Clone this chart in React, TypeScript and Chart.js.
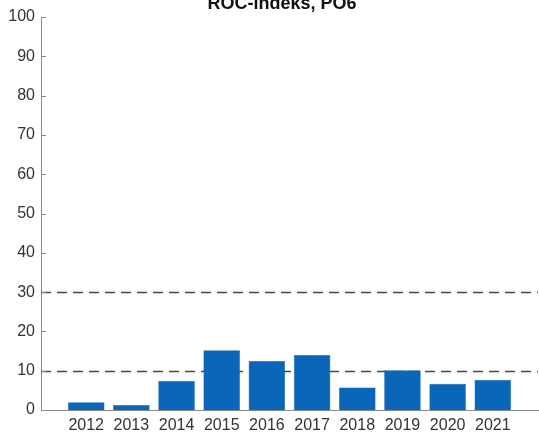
import React, { useEffect, useRef } from "react";
import { Chart, registerables } from "chart.js";

Chart.register(...registerables);

const years = [2012, 2013, 2014, 2015, 2016, 2017, 2018, 2019, 2020, 2021];
const rocValues = [2.0, 1.3, 7.4, 15.2, 12.5, 14.0, 5.7, 10.1, 6.7, 7.7];
const refLines = [10, 30];
const yTicks = [0, 10, 20, 30, 40, 50, 60, 70, 80, 90, 100];
const titleText = "ROC-indeks, PO6";

const FONT = "'Liberation Sans', Arial, Helvetica, sans-serif";

const overlayPlugin = {
  id: "overlay",
  beforeDatasetsDraw(chart: any) {
    const { ctx, chartArea } = chart;
    const y = chart.scales.y;
    ctx.save();
    ctx.strokeStyle = "#4a4a4a";
    ctx.lineWidth = 1.5;
    ctx.setLineDash([10, 6]);
    refLines.forEach((v) => {
      const py = Math.round(y.getPixelForValue(v)) + 0.5;
      ctx.beginPath();
      ctx.moveTo(chartArea.left, py);
      ctx.lineTo(chartArea.right, py);
      ctx.stroke();
    });
    ctx.restore();
  },
  afterDraw(chart: any) {
    const { ctx, chartArea } = chart;
    const y = chart.scales.y;
    ctx.save();
    ctx.strokeStyle = "#8a8a8a";
    ctx.lineWidth = 1;
    yTicks.forEach((v) => {
      const py = Math.round(y.getPixelForValue(v)) + 0.5;
      ctx.beginPath();
      ctx.moveTo(chartArea.left, py);
      ctx.lineTo(chartArea.left + 5, py);
      ctx.stroke();
    });
    ctx.fillStyle = "#111";
    ctx.font = `bold 18px ${FONT}`;
    ctx.textAlign = "center";
    ctx.textBaseline = "alphabetic";
    ctx.fillText(titleText, 282, 9);
    ctx.restore();
  },
};

export default function App() {
  const ref = useRef<HTMLCanvasElement>(null);
  useEffect(() => {
    document.body.style.margin = "0";
    const chart = new Chart(ref.current!, {
      type: "bar",
      data: {
        datasets: [
          {
            data: years.map((yr, i) => ({ x: yr, y: rocValues[i] })),
            backgroundColor: "#0a66b8",
            borderColor: "#0a5aa3",
            borderWidth: 0.5,
            barPercentage: 0.81,
            categoryPercentage: 1,
          },
        ],
      },
      options: {
        responsive: false,
        animation: false,
        layout: { padding: { top: 17, right: 1, left: 0, bottom: 0 } },
        plugins: { legend: { display: false }, tooltip: { enabled: false }, title: { display: false } },
        scales: {
          x: {
            type: "linear",
            min: 2011,
            max: 2022,
            offset: false,
            grid: { display: false, drawTicks: false },
            border: { display: true, color: "#8a8a8a", width: 1 },
            afterBuildTicks: (scale: any) => {
              scale.ticks = years.map((v) => ({ value: v }));
            },
            afterFit: (scale: any) => {
              scale.height = 26;
            },
            ticks: {
              autoSkip: false,
              maxRotation: 0,
              padding: 6,
              color: "#333",
              font: { family: FONT, size: 16 },
              callback: (v: any) => String(v),
            },
          },
          y: {
            min: 0,
            max: 100,
            grid: { display: false, drawTicks: false },
            border: { display: true, color: "#8a8a8a", width: 1 },
            afterBuildTicks: (scale: any) => {
              scale.ticks = yTicks.map((v) => ({ value: v }));
            },
            afterFit: (scale: any) => {
              scale.width = 41;
            },
            ticks: {
              padding: 6,
              color: "#333",
              font: { family: FONT, size: 16 },
            },
          },
        },
      },
      plugins: [overlayPlugin],
    });
    return () => chart.destroy();
  }, []);
  return <canvas ref={ref} width={539} height={436} style={{ display: "block" }} />;
}
